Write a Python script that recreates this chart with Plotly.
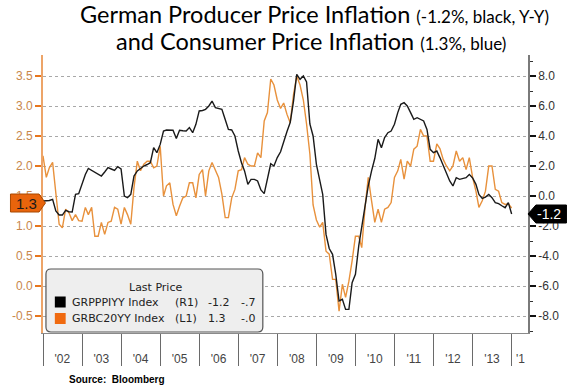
import plotly.graph_objects as go
import pandas as pd

# ---------------- data ----------------
cpi = [2.17, 1.81, 1.97, 2.06, 1.55, 1.03, 0.97, 1.28, 1.22, 1.09, 1.19, 1.09,
       1.08, 1.31, 1.19, 1.31, 0.83, 0.83, 1.06, 0.86, 1.06, 1.08, 1.31, 1.28,
       1.03, 1.31, 1.19, 1.03, 1.64, 2.08, 1.92, 2.03, 2.08, 2.08, 1.97, 2.0,
       2.33, 1.5, 1.67, 1.72, 1.36, 1.17, 1.33, 1.47, 1.5, 1.72, 1.72,
       1.47, 1.86, 1.94, 1.5, 1.92, 2.06, 1.92, 1.81, 1.53, 1.14, 1.14, 1.47,
       1.61, 1.92, 1.94, 2.14, 2.03, 2.0, 2.0, 2.22, 2.14, 2.75, 2.89, 3.45,
       3.35, 3.1, 2.96, 3.05, 2.86, 2.72, 3.19, 3.5, 3.35, 3.1, 2.7, 2.2,
       1.35, 1.1, 0.98, 1.06, 0.58, 0.53, 0.11, 0.11, -0.42, 0.03, -0.19, 0.08,
       0.42, 0.83, 0.83, 0.64, 1.31, 1.81, 1.42, 1.06, 1.28, 1.06, 1.28, 1.31,
       1.39, 1.81, 1.92, 2.11, 1.78, 2.08, 2.0, 2.28, 2.33,
       2.61, 2.5, 2.5, 2.08, 2.08, 2.37, 2.29, 2.11, 2.0, 1.92, 2.0, 2.25,
       2.08, 2.14, 1.94, 2.14, 1.81, 1.58, 1.31, 1.42, 1.58, 2.0, 2.0, 1.61,
       1.58, 1.39, 1.36, 1.37, 1.3]

ppi = [-0.33, -0.33, -0.3, -0.22, -1.0, -1.27, -1.27, -0.96, -1.05, -1.07, 0.11, 0.15,
       0.78, 1.44, 1.84, 1.7, 1.56, 1.45, 1.33, 1.6, 1.89, 1.8, 1.7, 1.96,
       1.8, 0.0, -0.11, 0.11, 1.33, 1.67, 1.85, 2.0, 2.1, 2.22, 3.22, 2.89,
       3.44, 4.33, 4.4, 4.4, 4.38, 3.84, 4.38, 4.35, 4.33, 4.56, 4.22,
       4.78, 5.67, 5.7, 5.78, 6.0, 6.33, 5.89, 5.85, 5.78, 5.1, 4.44, 4.4,
       4.0, 3.0, 2.2, 1.67, 0.78, 1.11, 1.11, 1.0, 0.4, 0.16, 1.22, 2.15,
       2.0, 2.56, 2.95, 3.67, 4.3, 4.9, 6.33, 8.11, 7.78, 8.0, 7.6, 4.8,
       4.0, 2.11, 1.0, 0.11, -2.56, -3.5, -3.89, -5.22, -7.0, -6.89, -7.56, -7.56,
       -5.78, -5.22, -3.33, -2.11, -0.56, 0.67, 1.67, 2.5, 3.78, 3.22, 3.89, 4.22,
       4.33, 4.78, 5.56, 6.11, 6.22, 6.0, 5.56, 5.11, 5.22,
       5.11, 5.0, 4.44, 3.11, 2.89, 3.0, 2.56, 2.0, 1.56, 1.0, 0.67, 1.22,
       1.11, 1.15, 1.22, 1.44, 1.2, 0.78, 0.11, -0.16, -0.07, 0.11, -0.11, -0.44,
       -0.51, -0.65, -0.78, -0.44, -1.2]

dates = pd.date_range("2002-01-01", periods=len(cpi), freq="MS")

year_tick_dates = ["2002-07-01", "2003-07-01", "2004-07-01", "2005-07-01", "2006-07-01",
                   "2007-07-01", "2008-07-01", "2009-07-01", "2010-07-01", "2011-07-01",
                   "2012-07-01", "2013-07-01", "2014-03-25"]
year_tick_text = ["'02", "'03", "'04", "'05", "'06", "'07", "'08", "'09", "'10",
                  "'11", "'12", "'13", "'1"]

left_tick_vals = [-0.5, 0.0, 0.5, 1.0, 1.5, 2.0, 2.5, 3.0, 3.5]
left_tick_text = ["-0.5", "0.0", "0.5", "1.0", "1.5", "2.0", "2.5", "3.0", "3.5"]
right_tick_vals = [-8, -6, -4, -2, 0, 2, 4, 6, 8]
right_tick_text = ["-8.0", "-6.0", "-4.0", "-2.0", "0.0", "2.0", "4.0", "6.0", "8.0"]

legend_names = ["GRPPPIYY Index", "GRBC20YY Index"]
legend_axis = ["(R1)", "(L1)"]
legend_last = ["-1.2", "1.3"]
legend_chg = ["-.7", "-.0"]
legend_colors = ["#000000", "#F06A10"]

last_cpi_text = "1.3"
last_ppi_text = "-1.2"

# ---------------- geometry helpers (pixels -> paper) ----------------
FW, FH = 571, 386
L, R, T, B = 40, 39, 55, 53
PW = FW - L - R
PH = FH - T - B


def px(x):
    return (x - L) / PW


def py(y):
    return (FH - B - y) / PH


def poly(points):
    s = "M " + " L ".join(f"{px(x):.5f},{py(y):.5f}" for x, y in points) + " Z"
    return s


def rrect(x0, y0, x1, y1, r):
    P = lambda x, y: f"{px(x):.5f},{py(y):.5f}"
    return (f"M {P(x0 + r, y0)} L {P(x1 - r, y0)} Q {P(x1, y0)} {P(x1, y0 + r)} "
            f"L {P(x1, y1 - r)} Q {P(x1, y1)} {P(x1 - r, y1)} "
            f"L {P(x0 + r, y1)} Q {P(x0, y1)} {P(x0, y1 - r)} "
            f"L {P(x0, y0 + r)} Q {P(x0, y0)} {P(x0 + r, y0)} Z")


ORANGE_LINE = "#E8913C"
GRID = "#A8A8A8"
TICKFONT = "Liberation Sans"

fig = go.Figure()
fig.add_trace(go.Scatter(x=dates, y=cpi, mode="lines", name="GRBC20YY Index",
                         line=dict(color=ORANGE_LINE, width=1.4), yaxis="y"))
fig.add_trace(go.Scatter(x=dates, y=ppi, mode="lines", name="GRPPPIYY Index",
                         line=dict(color="#1A1A1A", width=1.4), yaxis="y2"))

shapes = []
annotations = []

# legend box
shapes.append(dict(type="path", xref="paper", yref="paper", path=rrect(43, 269, 263, 332, 5),
                   fillcolor="#EEEEEE", line=dict(color="#555555", width=1.2), layer="above"))
annotations.append(dict(xref="paper", yref="paper", x=px(154), y=py(287), text="Last Price",
                        showarrow=False, xanchor="center", yanchor="middle",
                        font=dict(family="DejaVu Sans", size=11, color="#222222")))
row_y = [302, 318.5]
for i in range(2):
    yy = row_y[i]
    shapes.append(dict(type="rect", xref="paper", yref="paper",
                       x0=px(52), x1=px(63), y0=py(yy - 5.5), y1=py(yy + 5.5),
                       fillcolor=legend_colors[i], line=dict(width=0), layer="above"))
    for xx, txt in [(67, legend_names[i]), (172, legend_axis[i]),
                    (205, legend_last[i]), (239, legend_chg[i])]:
        annotations.append(dict(xref="paper", yref="paper", x=px(xx), y=py(yy), text=txt,
                                showarrow=False, xanchor="left", yanchor="middle",
                                font=dict(family="DejaVu Sans", size=11, color="#222222")))

# last value badges
shapes.append(dict(type="path", xref="paper", yref="paper",
                   path=poly([(7, 194), (36, 194), (42.5, 203), (36, 212), (7, 212)]),
                   fillcolor="#E8640C", line=dict(color="#A84800", width=1), layer="above"))
annotations.append(dict(xref="paper", yref="paper", x=px(23), y=py(203), text=last_cpi_text,
                        showarrow=False, xanchor="center", yanchor="middle",
                        font=dict(family=TICKFONT, size=15, color="#1A1A1A")))
shapes.append(dict(type="path", xref="paper", yref="paper",
                   path=poly([(532, 214), (540, 205), (571, 205), (571, 223), (540, 223)]),
                   fillcolor="#000000", line=dict(color="#000000", width=1), layer="above"))
annotations.append(dict(xref="paper", yref="paper", x=px(553), y=py(214), text=last_ppi_text,
                        showarrow=False, xanchor="center", yanchor="middle",
                        font=dict(family=TICKFONT, size=14, color="#FFFFFF")))

# title
annotations.append(dict(xref="paper", yref="paper", x=px(315), y=py(14),
                        text="German Producer Price Inflation <span style='font-size:17px'>(-1.2%, black, Y-Y)</span>",
                        showarrow=False, xanchor="center", yanchor="middle",
                        font=dict(family="Lato", size=23.5, color="#000000")))
annotations.append(dict(xref="paper", yref="paper", x=px(312), y=py(41),
                        text="and Consumer Price Inflation <span style='font-size:17px'>(1.3%, blue)</span>",
                        showarrow=False, xanchor="center", yanchor="middle",
                        font=dict(family="Lato", size=23.5, color="#000000")))
# source
annotations.append(dict(xref="paper", yref="paper", x=px(64), y=py(379),
                        text="<b>Source:  Bloomberg</b>",
                        showarrow=False, xanchor="left", yanchor="middle",
                        font=dict(family="Liberation Sans", size=10, color="#000000")))

fig.update_layout(
    width=FW, height=FH,
    margin=dict(l=L, r=R, t=T, b=B, pad=0),
    paper_bgcolor="white", plot_bgcolor="white",
    showlegend=False,
    shapes=shapes, annotations=annotations,
    xaxis=dict(
        type="date", range=["2002-01-01", "2014-06-03"],
        showgrid=False, zeroline=False,
        showline=True, linecolor="#8A8A8A", linewidth=1,
        tickmode="array", tickvals=year_tick_dates, ticktext=year_tick_text,
        ticks="outside", ticklen=15, tickcolor="rgba(0,0,0,0)",
        tickfont=dict(family=TICKFONT, size=12, color="#444444"),
        minor=dict(ticks="outside", tickmode="linear", tick0="2002-01-01", dtick="M12",
                   ticklen=32, tickcolor="#6A6A6A", tickwidth=1, showgrid=False),
    ),
    xaxis2=dict(
        type="date", overlaying="x", matches="x", anchor="y",
        showgrid=True, gridcolor=GRID, griddash="dot", gridwidth=1,
        tick0="2002-01-01", dtick="M24", showticklabels=False, ticks="",
        showline=False, zeroline=False,
    ),
    yaxis=dict(
        range=[-0.783, 3.85],
        tickmode="array", tickvals=left_tick_vals, ticktext=left_tick_text,
        showgrid=True, gridcolor=GRID, griddash="dot", gridwidth=1, zeroline=False,
        showline=True, linecolor="#EDA468", linewidth=2,
        ticks="outside", ticklen=6, tickwidth=2, tickcolor="#E8761E",
        tickfont=dict(family=TICKFONT, size=12, color="#C8874C"),
    ),
    yaxis2=dict(
        overlaying="y", side="right", anchor="x",
        range=[-9.133, 9.4],
        tickmode="array", tickvals=right_tick_vals, ticktext=right_tick_text,
        showgrid=False, zeroline=False,
        showline=True, linecolor="#7A7A7A", linewidth=1.5,
        ticks="outside", ticklen=6, tickwidth=2, tickcolor="#111111",
        tickfont=dict(family=TICKFONT, size=12, color="#333333"),
        minor=dict(ticks="outside", tickmode="linear", tick0=-9, dtick=2,
                   ticklen=3, tickwidth=1, tickcolor="#333333"),
    ),
)

fig.write_html("out.html", config={"displayModeBar": False},
               post_script="document.body.style.margin='0';document.body.style.overflow='hidden';")
